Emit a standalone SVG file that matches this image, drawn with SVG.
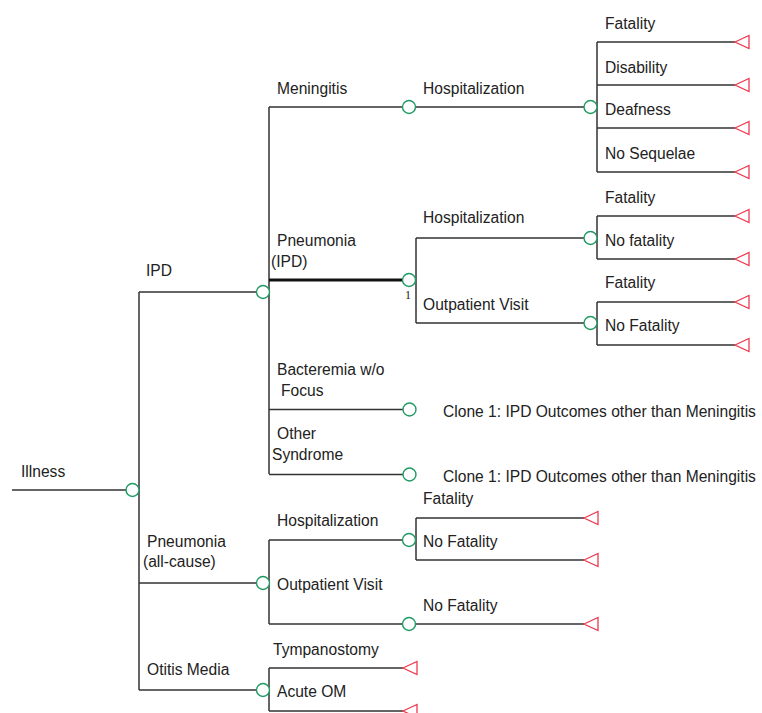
<svg xmlns="http://www.w3.org/2000/svg" xmlns:xlink="http://www.w3.org/1999/xlink" width="762" height="713" viewBox="0 0 762 713">
<style>
  .ln{stroke:#333;stroke-width:1.5;fill:none}
  .thick{stroke:#111;stroke-width:3.2;fill:none}
  .ch{fill:#fff;stroke:#1e9a62;stroke-width:1.4}
  .tm{fill:#fff;stroke:#ee3b4f;stroke-width:1.3}
  text{font-family:"Liberation Sans",Arial,sans-serif;font-size:15.6px;fill:#222}
  .one{font-family:"Liberation Serif","Times New Roman",serif;font-size:12px}
</style>
<defs>
  <path id="tri" class="tm" d="M0,0 L14,-6.5 L14,6.5 Z"/>
  <circle id="cn" class="ch" r="6.5"/>
</defs>
<rect width="762" height="713" fill="#fff"/>
<g id="connectors">
  <path class="ln" d="M12,490 H139 M139,292 V690"/>
  <path class="ln" d="M139,292 H269 M269,107 V474"/>
  <path class="ln" d="M269,107 H597 M597,42 V172 M597,42 H735 M597,85 H735 M597,128 H735 M597,172 H735"/>
  <path class="thick" d="M269,280 H409"/>
  <path class="ln" d="M409,280 H416 M416,238 V323 M416,238 H597 M416,323 H597"/>
  <path class="ln" d="M597,216 V259 M597,216 H735 M597,259 H735 M597,302 V345 M597,302 H735 M597,345 H735"/>
  <path class="ln" d="M269,409.5 H409 M269,474.5 H409"/>
  <path class="ln" d="M139,583 H269 M269,540 V624 M269,540 H416 M416,518 V560 M416,518 H584 M416,560 H584 M269,624 H584"/>
  <path class="ln" d="M139,690 H269 M269,668 V711 M269,668 H403 M269,711 H403"/>
</g>
<g id="illness"><text x="21" y="477">Illness</text><use href="#cn" x="132.5" y="490"/></g>
<g id="ipd"><text x="146" y="276">IPD</text><use href="#cn" x="263" y="292"/></g>
<g id="meningitis"><text x="277" y="94">Meningitis</text><use href="#cn" x="409" y="107"/></g>
<g id="men-hosp"><text x="423" y="94">Hospitalization</text><use href="#cn" x="590.5" y="107"/></g>
<g id="men-fatality"><text x="605" y="29">Fatality</text><use href="#tri" x="735" y="42"/></g>
<g id="men-disability"><text x="605" y="73">Disability</text><use href="#tri" x="735" y="85"/></g>
<g id="men-deafness"><text x="605" y="115">Deafness</text><use href="#tri" x="735" y="128"/></g>
<g id="men-nosequelae"><text x="605" y="159">No Sequelae</text><use href="#tri" x="735" y="172"/></g>
<g id="pneu-ipd"><text x="277" y="246">Pneumonia</text><text x="271" y="267">(IPD)</text><use href="#cn" x="409" y="280"/><text class="one" x="405" y="299">1</text></g>
<g id="pipd-hosp"><text x="423" y="223">Hospitalization</text><use href="#cn" x="590.5" y="238"/></g>
<g id="pipd-hosp-fat"><text x="605" y="203">Fatality</text><use href="#tri" x="735" y="216"/></g>
<g id="pipd-hosp-nofat"><text x="605" y="246">No fatality</text><use href="#tri" x="735" y="259"/></g>
<g id="pipd-out"><text x="423" y="310">Outpatient Visit</text><use href="#cn" x="590.5" y="323"/></g>
<g id="pipd-out-fat"><text x="605" y="288">Fatality</text><use href="#tri" x="735" y="302"/></g>
<g id="pipd-out-nofat"><text x="605" y="331">No Fatality</text><use href="#tri" x="735" y="345"/></g>
<g id="bacteremia"><text x="277" y="375">Bacteremia w/o</text><text x="281" y="396">Focus</text><use href="#cn" x="409.5" y="409.5"/><text x="443" y="417">Clone 1: IPD Outcomes other than Meningitis</text></g>
<g id="other"><text x="277" y="439">Other</text><text x="272" y="460">Syndrome</text><use href="#cn" x="409.5" y="474.5"/><text x="443" y="482">Clone 1: IPD Outcomes other than Meningitis</text></g>
<g id="pneu-all"><text x="147" y="547">Pneumonia</text><text x="143" y="567">(all-cause)</text><use href="#cn" x="263" y="583"/></g>
<g id="pall-hosp"><text x="277" y="526">Hospitalization</text><use href="#cn" x="409" y="540"/></g>
<g id="pall-hosp-fat"><text x="423" y="504">Fatality</text><use href="#tri" x="584" y="518"/></g>
<g id="pall-hosp-nofat"><text x="423" y="547">No Fatality</text><use href="#tri" x="584" y="560"/></g>
<g id="pall-out"><text x="277" y="590">Outpatient Visit</text><use href="#cn" x="409" y="624"/></g>
<g id="pall-out-nofat"><text x="423" y="611">No Fatality</text><use href="#tri" x="584" y="624"/></g>
<g id="otitis"><text x="147" y="675">Otitis Media</text><use href="#cn" x="263" y="690"/></g>
<g id="tympanostomy"><text x="273" y="655">Tympanostomy</text><use href="#tri" x="403" y="668"/></g>
<g id="acute-om"><text x="277" y="697">Acute OM</text><use href="#tri" x="403" y="711"/></g>
</svg>
